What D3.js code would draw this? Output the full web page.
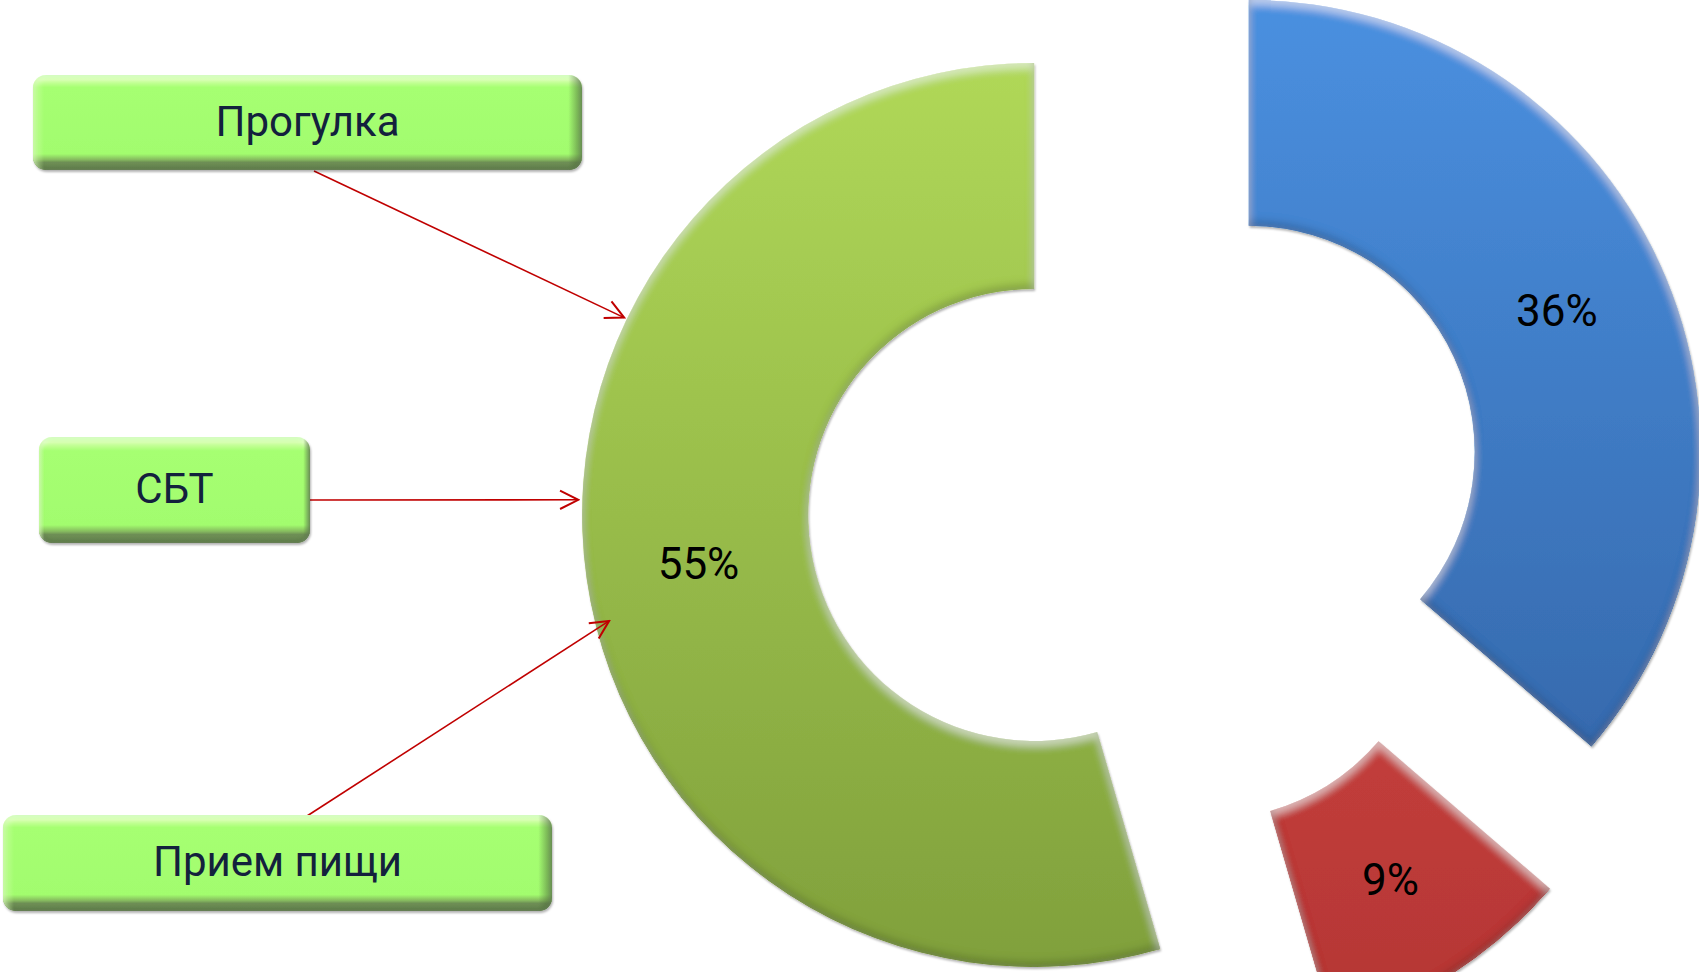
<!DOCTYPE html>
<html>
<head>
<meta charset="utf-8">
<script src="https://cdn.jsdelivr.net/npm/d3@7"></script>
<style>
  html, body { margin: 0; padding: 0; background: #fff; overflow: hidden; }
  text { font-family: Roboto, "Open Sans", sans-serif; }
</style>
</head>
<body>
<div id="canvas"></div>
<script>
// Data
var slice_values = [36.3, 9.2, 54.5]          // blue, red, green (clockwise from 12 o'clock)
var slice_labels = slice_values.map(v => Math.round(v) + "%")
var box_labels = ["Прогулка", "СБТ", "Прием пищи"]

// Display variables
var total_width = 1699, total_height = 972
var centre = [1146, 499]
var r_inner = 226, r_outer = 452
var explode = 113
var slice_colours = [["#4a90e0", "#3262a3"], ["#e04a48", "#b33634"], ["#b0d858", "#80a03c"]]
var box_text_colour = "#13213d"
var arrow_colour = "#c00000"

// Layout of the callout boxes and arrows (arrows point at the green slice)
var boxes = [
  {x: 33, y: 75, w: 549, h: 95},
  {x: 39, y: 437, w: 271, h: 106},
  {x: 3, y: 815, w: 549, h: 96}
]
var arrow_from = [[314, 171], [310, 500], [307, 816]]
var arrow_to = [{deg: 295.7, r: 455}, {deg: 271.9, r: 456}, {deg: 256, r: 438}]   // polar, about green slice centre
var target_slice = 2

var svg = d3.select("#canvas").append("svg")
  .attr("width", total_width).attr("height", total_height)
  .style("display", "block")
svg.append("rect").attr("width", total_width).attr("height", total_height).attr("fill", "#fff")

var defs = svg.append("defs")

// Bevel filter: light top edges, dark bottom edges, small drop shadow
function bevel_filter(id, blur, shift, hl, sh) {
  var f = defs.append("filter").attr("id", id)
    .attr("x", "-5%").attr("y", "-5%").attr("width", "110%").attr("height", "110%")
  f.append("feGaussianBlur").attr("in", "SourceAlpha").attr("stdDeviation", blur).attr("result", "blur")
  f.append("feOffset").attr("in", "blur").attr("dx", 0).attr("dy", shift).attr("result", "offDown")
  f.append("feComposite").attr("in", "SourceAlpha").attr("in2", "offDown")
    .attr("operator", "arithmetic").attr("k2", 1).attr("k3", -1).attr("result", "topEdge")
  f.append("feFlood").attr("flood-color", "#fff").attr("flood-opacity", hl)
  f.append("feComposite").attr("in2", "topEdge").attr("operator", "in").attr("result", "hl")
  f.append("feOffset").attr("in", "blur").attr("dx", 0).attr("dy", -shift).attr("result", "offUp")
  f.append("feComposite").attr("in", "SourceAlpha").attr("in2", "offUp")
    .attr("operator", "arithmetic").attr("k2", 1).attr("k3", -1).attr("result", "botEdge")
  f.append("feFlood").attr("flood-color", "#000").attr("flood-opacity", sh)
  f.append("feComposite").attr("in2", "botEdge").attr("operator", "in").attr("result", "sh")
  f.append("feOffset").attr("in", "SourceAlpha").attr("dx", 1).attr("dy", 1.5).attr("result", "so")
  f.append("feGaussianBlur").attr("in", "so").attr("stdDeviation", 1).attr("result", "sob")
  f.append("feFlood").attr("flood-color", "#000").attr("flood-opacity", 0.3)
  f.append("feComposite").attr("in2", "sob").attr("operator", "in").attr("result", "ds")
  var m = f.append("feMerge")
  ;["ds", "SourceGraphic", "hl", "sh"].forEach(n => m.append("feMergeNode").attr("in", n))
}
bevel_filter("bevel", 4, 5, 0.5, 0.4)
bevel_filter("bevel_box", 2.5, 3, 0.45, 0.3)

// Slice gradients (top light -> bottom dark)
slice_colours.forEach(function(c, i) {
  var g = defs.append("linearGradient").attr("id", "grad" + i)
    .attr("gradientUnits", "userSpaceOnUse")
    .attr("x1", 0).attr("x2", 0).attr("y1", -r_outer).attr("y2", r_outer)
  g.append("stop").attr("offset", "0%").attr("stop-color", c[0])
  g.append("stop").attr("offset", "100%").attr("stop-color", c[1])
})

// Box gradient
var bg = defs.append("linearGradient").attr("id", "box_grad").attr("x1", 0).attr("x2", 0).attr("y1", 0).attr("y2", 1)
;[["0%", "#b8ff8a"], ["5%", "#d4ffaa"], ["13%", "#a6ff72"], ["83%", "#a2fc6e"], ["89%", "#86bb5f"],
  ["92%", "#6e8f56"], ["100%", "#6a8a52"]].forEach(s => bg.append("stop").attr("offset", s[0]).attr("stop-color", s[1]))
var bgh = defs.append("linearGradient").attr("id", "box_side").attr("x1", 0).attr("x2", 1).attr("y1", 0).attr("y2", 0)
;[["0%", "rgba(210,255,170,0.7)"], ["2%", "rgba(210,255,170,0)"], ["97.5%", "rgba(80,110,60,0)"],
  ["100%", "rgba(80,110,60,0.75)"]].forEach(s => bgh.append("stop").attr("offset", s[0]).attr("stop-color", s[1]))

// Arrow marker (open V)
defs.append("marker").attr("id", "arrow")
  .attr("viewBox", "0 0 12 12").attr("refX", 11).attr("refY", 6)
  .attr("markerWidth", 22).attr("markerHeight", 22).attr("markerUnits", "userSpaceOnUse")
  .attr("orient", "auto")
  .append("path").attr("d", "M1,1 L11,6 L1,11")
  .attr("fill", "none").attr("stroke", arrow_colour).attr("stroke-width", 1.1)

// ==================================================================================
// DONUT

var pie = d3.pie().sort(null).value(d => d)
var arc = d3.arc().innerRadius(r_inner).outerRadius(r_outer)
var arcs = pie(slice_values)

function slice_offset(d) {
  var mid = (d.startAngle + d.endAngle) / 2
  return [centre[0] + explode * Math.sin(mid), centre[1] - explode * Math.cos(mid)]
}

var slices = svg.append("g").attr("class", "slices")
  .selectAll("g").data(arcs).enter().append("g")
  .attr("transform", d => "translate(" + slice_offset(d) + ")")
slices.append("path")
  .attr("d", arc)
  .attr("fill", (d, i) => "url(#grad" + i + ")")
  .attr("filter", "url(#bevel)")
slices.append("text")
  .attr("transform", d => "translate(" + arc.centroid(d) + ")")
  .attr("text-anchor", "middle")
  .attr("dy", "0.36em")
  .attr("font-size", 44)
  .attr("fill", "#000")
  .text((d, i) => slice_labels[i])

// ==================================================================================
// CALLOUT BOXES AND ARROWS

var target = slice_offset(arcs[target_slice])
var arrows = svg.append("g").attr("class", "arrows")
arrow_from.forEach(function(p, i) {
  var a = arrow_to[i].deg * Math.PI / 180
  var tip = [target[0] + arrow_to[i].r * Math.sin(a), target[1] - arrow_to[i].r * Math.cos(a)]
  arrows.append("line")
    .attr("x1", p[0]).attr("y1", p[1]).attr("x2", tip[0]).attr("y2", tip[1])
    .attr("stroke", arrow_colour).attr("stroke-width", 1.6)
    .attr("marker-end", "url(#arrow)")
})

var box_g = svg.append("g").attr("class", "boxes")
  .selectAll("g").data(box_labels).enter().append("g")
  .attr("transform", (d, i) => "translate(" + boxes[i].x + "," + boxes[i].y + ")")
box_g.append("rect")
  .attr("width", (d, i) => boxes[i].w).attr("height", (d, i) => boxes[i].h)
  .attr("rx", 13).attr("ry", 13)
  .attr("fill", "url(#box_grad)")
  .attr("filter", "url(#bevel_box)")
box_g.append("rect")
  .attr("width", (d, i) => boxes[i].w).attr("height", (d, i) => boxes[i].h)
  .attr("rx", 13).attr("ry", 13)
  .attr("fill", "url(#box_side)")
box_g.append("text")
  .attr("x", (d, i) => boxes[i].w / 2)
  .attr("y", (d, i) => boxes[i].h / 2 - 2)
  .attr("dy", "0.36em")
  .attr("text-anchor", "middle")
  .attr("font-size", 42)
  .attr("fill", box_text_colour)
  .text(d => d)
</script>
</body>
</html>
